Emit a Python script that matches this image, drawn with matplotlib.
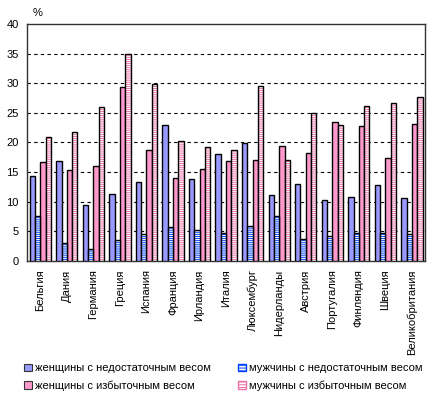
import numpy as np
import matplotlib.pyplot as plt
from matplotlib.patches import Patch

plt.rcParams['font.family'] = ['Liberation Sans', 'DejaVu Sans']
plt.rcParams['hatch.linewidth'] = 0.7

countries = ["Бельгия", "Дания", "Германия", "Греция", "Испания", "Франция",
             "Ирландия", "Италия", "Люксембург", "Нидерланды", "Австрия",
             "Португалия", "Финляндия", "Швеция", "Великобритания"]

women_under = [14.4, 16.9, 9.4, 11.3, 13.3, 23.0, 13.8, 18.1, 19.9, 11.1, 13.0, 10.3, 10.8, 12.8, 10.6]
men_under = [7.6, 3.0, 2.0, 3.5, 4.5, 5.7, 5.2, 4.7, 6.0, 7.6, 3.7, 4.2, 4.7, 4.7, 4.5]
women_over = [16.7, 15.4, 16.0, 29.4, 18.8, 14.0, 15.5, 16.9, 17.1, 19.4, 18.2, 23.5, 22.7, 17.3, 23.2]
men_over = [21.0, 21.8, 25.9, 35.0, 29.8, 20.3, 19.3, 18.8, 29.6, 17.1, 24.9, 23.0, 26.2, 26.7, 27.6]

labels = ["женщины с недостаточным весом", "мужчины с недостаточным весом",
          "женщины с избыточным весом", "мужчины с избыточным весом"]

blue = "#9999FF"
blue_stripe = "#0044FF"
pink = "#FF99CC"
pink_stripe = "#F070A8"

fig = plt.figure(figsize=(4.4, 3.98), dpi=100)
ax = fig.add_axes([0.0614, 0.344, 0.905, 0.596])

x = np.arange(len(countries))
w = 0.2
offs = [-1.5 * w, -0.5 * w, 0.5 * w, 1.5 * w]

# plain bars
ax.bar(x + offs[0], women_under, w, color=blue, edgecolor="black", linewidth=1.0, zorder=3)
ax.bar(x + offs[2], women_over, w, color=pink, edgecolor="black", linewidth=1.0, zorder=3)

# striped bars: hatch first, outline on top
ax.bar(x + offs[1], men_under, w, color="white", edgecolor=blue_stripe, hatch="--------", linewidth=0, zorder=3)
ax.bar(x + offs[1], men_under, w, facecolor="none", edgecolor="black", linewidth=1.0, zorder=4)
ax.bar(x + offs[3], men_over, w, color="white", edgecolor=pink_stripe, hatch="--------", linewidth=0, zorder=3)
ax.bar(x + offs[3], men_over, w, facecolor="none", edgecolor="black", linewidth=1.0, zorder=4)

ax.set_xlim(-0.5, len(countries) - 0.5)
ax.set_ylim(0, 40)
ax.set_yticks(range(0, 41, 5))
ax.set_xticks(x)
ax.set_xticklabels(countries, rotation=90, fontsize=8)
ax.tick_params(axis="both", length=0, labelsize=8)
ax.tick_params(axis="y", pad=6)
ax.tick_params(axis="x", pad=6)

for v in range(5, 40, 5):
    ax.axhline(v, color="black", linestyle=(0, (3, 3)), linewidth=0.8, zorder=1)

for s in ax.spines.values():
    s.set_color("#333333")
    s.set_linewidth(1.0)

fig.text(0.075, 0.955, "%", fontsize=8, ha="left", va="bottom")

h_wu = Patch(facecolor=blue, edgecolor="#333333", linewidth=0.8)
h_mu = Patch(facecolor="white", edgecolor=blue_stripe, hatch="------")
h_wo = Patch(facecolor=pink, edgecolor="#333333", linewidth=0.8)
h_mo = Patch(facecolor="white", edgecolor=pink_stripe, hatch="------")
# legend fills column by column, so order for rows: (wu, mu) / (wo, mo)
fig.legend([h_wu, h_wo, h_mu, h_mo], [labels[0], labels[2], labels[1], labels[3]],
           loc="upper left", bbox_to_anchor=(0.045, 0.098),
           ncol=2, frameon=False, fontsize=8, handlelength=0.7, handleheight=0.7,
           handletextpad=0.3, columnspacing=2.4, labelspacing=0.6, borderaxespad=0)

fig.savefig("out.png", dpi=100)
